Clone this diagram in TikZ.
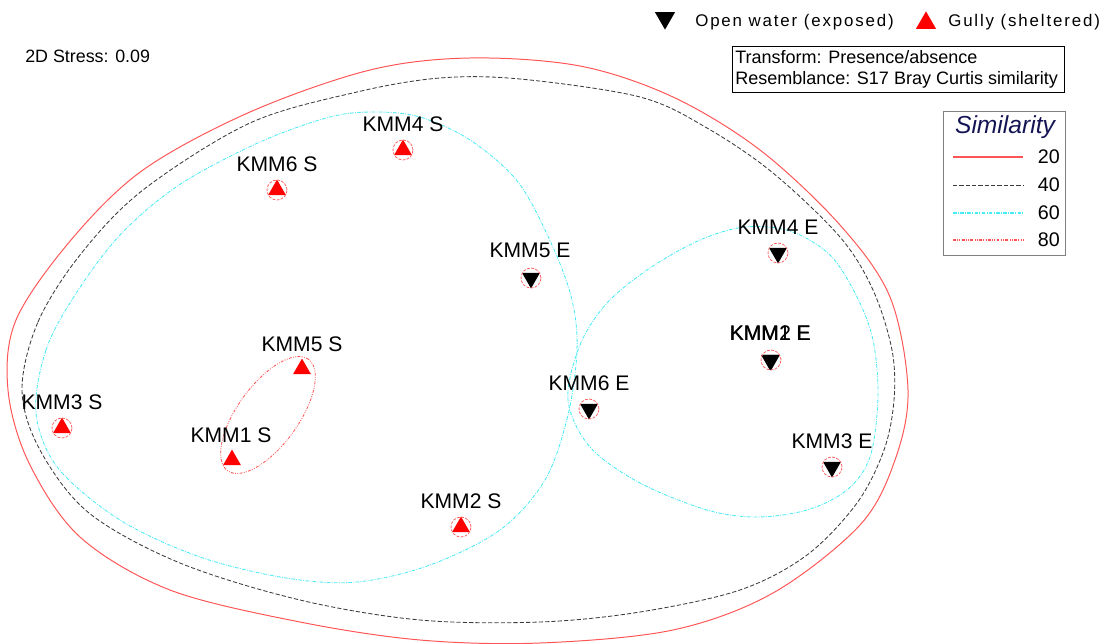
\documentclass[tikz,border=0pt]{standalone}
\usepackage{fontspec}
\setmainfont{Liberation Sans}
\newfontfamily\spacedfont[LetterSpace=11]{Liberation Sans}
\usetikzlibrary{shapes.geometric}
\definecolor{contred}{RGB}{255,85,85}
\definecolor{contcyan}{RGB}{70,235,245}
\definecolor{contgray}{RGB}{60,60,60}
\definecolor{simblue}{RGB}{20,20,85}

\begin{document}
\begin{tikzpicture}[x=0.025cm,y=-0.025cm,
  lab/.style={font=\fontsize{15}{18}\selectfont, inner sep=0pt},
  gully/.style={regular polygon, regular polygon sides=3, fill=red, inner sep=0pt, minimum size=0.52cm},
  openw/.style={regular polygon, regular polygon sides=3, shape border rotate=180, fill=black, inner sep=0pt, minimum size=0.52cm},
  ringline/.style={contred, line width=0.5pt, dash pattern=on 2pt off 1pt},
  c20/.style={contred, line width=0.7pt},
  c40/.style={contgray, line width=0.6pt, dash pattern=on 3pt off 1.5pt},
  c60/.style={contcyan, line width=0.6pt, dash pattern=on 2.5pt off 1pt on 0.6pt off 1pt},
  c80/.style={contred, line width=0.6pt, dash pattern=on 2pt off 1pt on 0.6pt off 1pt on 0.6pt off 1pt}]

\useasboundingbox (0,0) rectangle (1112,644);

\node[anchor=base west, inner sep=0pt, font=\fontsize{12.7}{15}\selectfont] (stress) at (25,63) {2D Stress: 0.09};

\node[openw, minimum size=0.58cm] (lgopen) at (665,18) {};
\node[anchor=base west, inner sep=0pt, font=\fontsize{12}{14}\spacedfont] (lgopentxt) at (695,27) {Open water (exposed)};
\node[gully, minimum size=0.58cm] (lggully) at (926,23) {};
\node[anchor=base west, inner sep=0pt, font=\fontsize{12}{14}\spacedfont] (lggullytxt) at (948,27) {Gully (sheltered)};

\node[draw, anchor=north west, line width=0.6pt, minimum width=8.3cm, minimum height=1.15cm, inner sep=0pt] (resbox) at (732,46) {};
\node[anchor=west, inner sep=0pt, align=left, font=\fontsize{12.8}{15.2}\selectfont] (restxt) at ([xshift=0.075cm]resbox.west) {Transform: Presence/absence\\Resemblance: S17 Bray Curtis similarity};

\node[draw=gray, anchor=north west, line width=0.8pt, minimum width=3.05cm, minimum height=3.6cm, inner sep=0pt] (simbox) at (943,111) {};
\node[font=\fontsize{17.5}{20}\selectfont\itshape, text=simblue, inner sep=0pt] (simtitle) at (1005,127) {Similarity};
\draw[c20, line width=1pt] (953,157) -- (1023,157);
\draw[c40] (953,185) -- (1023,185);
\draw[c60, line width=0.8pt] (953,213) -- (1023,213);
\draw[c80, line width=0.8pt] (953,240) -- (1023,240);
\node[anchor=east, inner sep=0pt, font=\fontsize{14}{16}\selectfont] (s20) at (1060,157) {20};
\node[anchor=east, inner sep=0pt, font=\fontsize{14}{16}\selectfont] (s40) at (1060,185) {40};
\node[anchor=east, inner sep=0pt, font=\fontsize{14}{16}\selectfont] (s60) at (1060,213) {60};
\node[anchor=east, inner sep=0pt, font=\fontsize{14}{16}\selectfont] (s80) at (1060,240) {80};

\draw[c20] plot[smooth cycle, tension=0.55] coordinates {(8,390) (16,320) (71,240) (143,170) (250,112) (370,70) (470,58) (580,66) (673,97) (760,150) (840,225) (890,297) (908,390) (895,460) (860,525) (773,593) (673,630) (540,643) (420,640) (300,622) (170,590) (80,537) (29,463)};
\draw[c40] plot[smooth cycle, tension=0.55] coordinates {(22,390) (38,322) (80,255) (143,190) (250,123) (357,92) (440,78) (520,79) (640,97) (707,128) (773,173) (840,237) (873,290) (892,350) (894,400) (884,450) (857,503) (807,555) (740,590) (640,612) (540,622) (420,620) (300,600) (180,563) (89,513) (40,450)};
\draw[c60] plot[smooth cycle, tension=0.55] coordinates {(36,413) (46,350) (75,295) (120,235) (179,185) (260,142) (330,117) (375,112) (420,117) (470,140) (518,182) (552,245) (572,300) (577,350) (568,415) (545,480) (500,530) (430,565) (357,582) (286,578) (200,557) (120,520) (58,468)};
\draw[c60] plot[smooth cycle, tension=0.55] coordinates {(568,400) (580,345) (607,303) (650,268) (700,240) (745,227) (790,231) (830,255) (857,297) (873,340) (878,397) (870,457) (847,490) (807,510) (757,517) (707,510) (640,483) (590,447)};

\coordinate (pair15) at (268,415);
\draw[c80, rotate around={54:(pair15)}] (pair15) ellipse [x radius=1.72cm, y radius=0.76cm];

\node[gully] (m4s) at (403,150) {};
\node[gully] (m6s) at (277,190) {};
\node[gully] (m5s) at (302,369) {};
\node[gully] (m3s) at (62,428) {};
\node[gully] (m1s) at (232,460) {};
\node[gully] (m2s) at (461,527) {};
\node[openw] (m5e) at (531,278) {};
\node[openw] (m4e) at (778,253) {};
\node[openw] (m1e) at (770,360) {};
\node[openw] (m2e) at (771,360) {};
\node[openw] (m6e) at (589,409) {};
\node[openw] (m3e) at (832,467) {};

\foreach \m in {m4s,m6s,m3s,m2s,m5e,m4e,m2e,m6e,m3e}
  \draw[ringline] (\m.center) circle[radius=0.25cm];

\node[lab] (k4s) at (403,124) {KMM4 S};
\node[lab] (k6s) at (277,164) {KMM6 S};
\node[lab] (k5s) at (302,344) {KMM5 S};
\node[lab] (k3s) at (62,402) {KMM3 S};
\node[lab] (k1s) at (231,435) {KMM1 S};
\node[lab] (k2s) at (461,501) {KMM2 S};
\node[lab] (k5e) at (530,250) {KMM5 E};
\node[lab] (k4e) at (778,227) {KMM4 E};
\node[lab] (k1e) at (770,333) {KMM1 E};
\node[lab] (k2e) at (770.5,333) {KMM2 E};
\node[lab] (k6e) at (589,383) {KMM6 E};
\node[lab] (k3e) at (832,441) {KMM3 E};

\end{tikzpicture}
\end{document}
